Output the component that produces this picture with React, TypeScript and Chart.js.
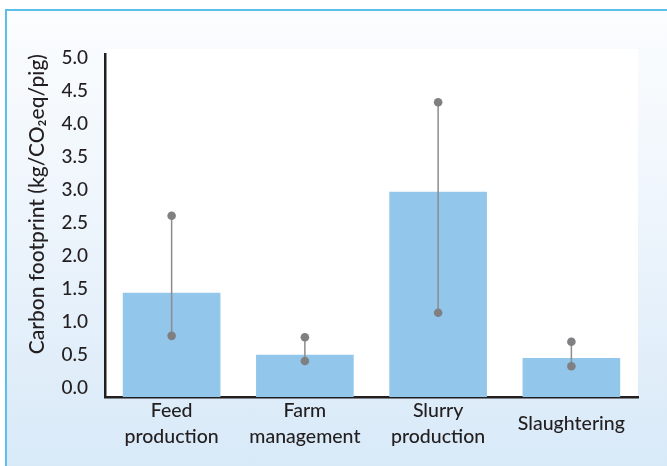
import React, { useEffect, useRef } from "react";
import { Chart, registerables } from "chart.js";

Chart.register(...registerables);

const categories: string[][] = [
  ["Feed", "production"],
  ["Farm", "management"],
  ["Slurry", "production"],
  ["Slaughtering"],
];
const footprint: number[] = [1.44, 0.5, 2.97, 0.45];
const errLow: number[] = [0.79, 0.41, 1.14, 0.33];
const errHigh: number[] = [2.61, 0.77, 4.33, 0.7];
const yTickValues: number[] = [0, 0.5, 1, 1.5, 2, 2.5, 3, 3.5, 4, 4.5, 5];
const Y_MIN = -0.136;
const Y_MAX = 5.06;

const FONT = "Lato, 'Open Sans', sans-serif";
const TEXT = "#231f20";

const plotBg = {
  id: "plotBg",
  beforeDraw(chart: any) {
    const { ctx, chartArea } = chart;
    ctx.save();
    ctx.fillStyle = "#ffffff";
    ctx.fillRect(chartArea.left, chartArea.top - 5, chartArea.right - chartArea.left, chartArea.bottom - chartArea.top + 5);
    ctx.restore();
  },
};

const errorBars = {
  id: "errorBars",
  afterDatasetsDraw(chart: any) {
    const { ctx } = chart;
    const x = chart.scales.x;
    const y = chart.scales.y;
    ctx.save();
    for (let i = 0; i < errLow.length; i++) {
      const px = x.getPixelForValue(i);
      const pl = y.getPixelForValue(errLow[i]);
      const ph = y.getPixelForValue(errHigh[i]);
      ctx.strokeStyle = "#8c8c8f";
      ctx.lineWidth = 1.5;
      ctx.beginPath();
      ctx.moveTo(px, pl);
      ctx.lineTo(px, ph);
      ctx.stroke();
      ctx.fillStyle = "#808083";
      for (const p of [pl, ph]) {
        ctx.beginPath();
        ctx.arc(px, p, 4.3, 0, Math.PI * 2);
        ctx.fill();
      }
    }
    ctx.restore();
  },
};

export default function App() {
  const ref = useRef<HTMLCanvasElement | null>(null);
  useEffect(() => {
    if (!ref.current) return;
    const chart = new Chart(ref.current, {
      type: "bar",
      data: {
        labels: categories as any,
        datasets: [
          {
            data: footprint,
            backgroundColor: "#92c7eb",
            barThickness: 97,
            base: Y_MIN,
          } as any,
        ],
      },
      options: {
        animation: false,
        responsive: false,
        maintainAspectRatio: false,
        layout: { padding: { left: 0, top: 54, right: 29, bottom: 0 } },
        plugins: { legend: { display: false }, tooltip: { enabled: false } },
        scales: {
          x: {
            grid: { display: false },
            border: { display: true, color: TEXT, width: 2.5 },
            ticks: {
              color: TEXT,
              font: { family: FONT, size: 19.5, weight: "500", lineHeight: 1.3 },
              padding: 6,
              crossAlign: "center",
              maxRotation: 0,
              autoSkip: false,
            },
            afterFit(scale: any) {
              scale.height = 69;
            },
          },
          y: {
            min: Y_MIN,
            max: Y_MAX,
            grid: { display: false },
            border: { display: true, color: TEXT, width: 2.5 },
            afterBuildTicks(scale: any) {
              scale.ticks = yTickValues.map((v) => ({ value: v }));
            },
            afterFit(scale: any) {
              scale.width = 105;
            },
            ticks: {
              color: TEXT,
              padding: 9,
              font: { family: FONT, size: 19, weight: "500" },
              callback: (v: any) => Number(v).toFixed(1),
            },
            title: {
              display: true,
              align: "end",
              text: "Carbon footprint (kg/CO₂eq/pig)",
              color: TEXT,
              font: { family: FONT, size: 21, weight: "500" },
              padding: { top: 25, bottom: 0 },
            },
          },
        },
      },
      plugins: [plotBg, errorBars],
    });
    return () => chart.destroy();
  }, []);

  return (
    <div style={{ position: "fixed", left: 0, top: 0, width: 667, height: 466, overflow: "hidden", background: "#ffffff" }}>
      <div
        style={{
          position: "absolute",
          left: 5,
          top: 9,
          width: 700,
          height: 500,
          borderLeft: "2px solid #5bbfe9",
          borderTop: "2px solid #5bbfe9",
          background: "linear-gradient(to bottom, #fbfdfe 0%, #eef5fc 40%, #d4e7f7 100%)",
        }}
      />
      <canvas ref={ref} width={667} height={466} style={{ position: "absolute", left: 0, top: 0, width: 667, height: 466 }} />
    </div>
  );
}
